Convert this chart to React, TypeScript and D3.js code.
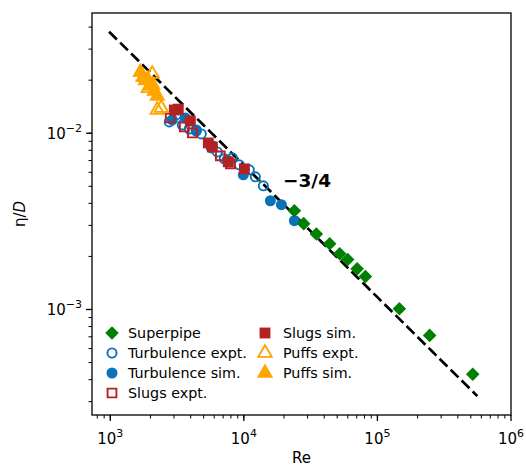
import React, { useEffect, useRef } from "react";
import * as d3 from "d3";

// Re and eta/D values
const superpipeRe = [23900, 28050, 34900, 43900, 52200, 59900, 70500, 81300, 146000, 246000, 517000];
const superpipeEta = [0.00363, 0.00307, 0.00268, 0.00236, 0.00207, 0.00192, 0.0017, 0.00154, 0.00101, 0.000713, 0.000429];

const turbExptRe = [2767, 3122, 3461, 3905, 4405, 4805, 5710, 6330, 7140, 8200, 9250, 10990, 12190, 14000];
const turbExptEta = [0.01159, 0.0127, 0.01114, 0.01057, 0.0103, 0.00991, 0.00826, 0.00783, 0.00716, 0.00725, 0.00662, 0.0062, 0.00566, 0.00503];

const turbSimRe = [2913, 3645, 4405, 5810, 7520, 9910, 15800, 19100, 23900];
const turbSimEta = [0.01189, 0.01222, 0.01044, 0.00848, 0.00706, 0.00581, 0.00414, 0.00393, 0.00319];

const slugsExptRe = [2814, 3583, 4115, 6670, 7925];
const slugsExptEta = [0.01221, 0.01086, 0.01004, 0.00744, 0.0067];

const slugsSimRe = [3016, 3230, 3975, 5420, 5810, 7650, 10090];
const slugsSimEta = [0.01355, 0.0137, 0.01174, 0.00881, 0.00836, 0.00689, 0.00628];

const puffsExptRe = [2063, 1926, 2249, 2410];
const puffsExptEta = [0.0217, 0.018, 0.01355, 0.0139];

const puffsSimRe = [1679, 1760, 1828, 1900, 1995, 2080, 2136, 2249];
const puffsSimEta = [0.0222, 0.0208, 0.0199, 0.0203, 0.01855, 0.0188, 0.01733, 0.01626];

// fit line eta/D = C * Re^(-3/4)
const fitC = 6.6;
const fitRange = [980, 560000];

const xTicks = [1e3, 1e4, 1e5, 1e6];
const yTicks = [1e-3, 1e-2];

const GREEN = "#008000";
const BLUE = "#0a72ba";
const RED = "#b22222";
const ORANGE = "#ffa500";

const App = () => {
  const ref = useRef<SVGSVGElement>(null);

  useEffect(() => {
    const width = 526;
    const height = 471;
    const m = { left: 92, right: 511, top: 13, bottom: 415 };

    const svg = d3.select(ref.current);
    svg.selectAll("*").remove();
    svg.attr("width", width).attr("height", height);

    const x = d3.scaleLog().domain([730, 1e6]).range([m.left, m.right]);
    const y = d3.scaleLog().domain([2.52e-4, 0.0481]).range([m.bottom, m.top]);

    const font = "DejaVu Sans, sans-serif";

    // minor ticks
    const minorX: number[] = [];
    for (let e = 2; e < 6; e++) for (let k = 1; k < 10; k++) {
      const v = k * Math.pow(10, e);
      if (v >= 730 && v <= 1e6) minorX.push(v);
    }
    const minorY: number[] = [];
    for (let e = -4; e < -1; e++) for (let k = 1; k < 10; k++) {
      const v = k * Math.pow(10, e);
      if (v >= 2.52e-4 && v <= 0.0481) minorY.push(v);
    }

    const g = svg.append("g");
    g.selectAll(".mx").data(minorX).enter().append("line")
      .attr("x1", (d) => x(d)).attr("x2", (d) => x(d))
      .attr("y1", m.bottom).attr("y2", m.bottom + 3.5)
      .attr("stroke", "#000").attr("stroke-width", 1);
    g.selectAll(".my").data(minorY).enter().append("line")
      .attr("y1", (d) => y(d)).attr("y2", (d) => y(d))
      .attr("x1", m.left).attr("x2", m.left - 3.5)
      .attr("stroke", "#000").attr("stroke-width", 1);
    g.selectAll(".Mx").data(xTicks).enter().append("line")
      .attr("x1", (d) => x(d)).attr("x2", (d) => x(d))
      .attr("y1", m.bottom).attr("y2", m.bottom + 6)
      .attr("stroke", "#000").attr("stroke-width", 1.3);
    g.selectAll(".My").data(yTicks).enter().append("line")
      .attr("y1", (d) => y(d)).attr("y2", (d) => y(d))
      .attr("x1", m.left).attr("x2", m.left - 6)
      .attr("stroke", "#000").attr("stroke-width", 1.3);

    // tick labels with superscript exponents
    xTicks.forEach((t) => {
      const txt = g.append("text")
        .attr("x", x(t)).attr("y", m.bottom + 29)
        .attr("text-anchor", "middle")
        .attr("font-family", font).attr("font-size", 15);
      txt.append("tspan").text("10");
      txt.append("tspan").attr("dy", -7).attr("font-size", 11)
        .text(String(Math.round(Math.log10(t))));
    });
    yTicks.forEach((t) => {
      const txt = g.append("text")
        .attr("x", m.left - 10).attr("y", y(t) + 6)
        .attr("text-anchor", "end")
        .attr("font-family", font).attr("font-size", 15);
      txt.append("tspan").text("10");
      txt.append("tspan").attr("dy", -7).attr("font-size", 11)
        .text("\u2212" + String(Math.abs(Math.round(Math.log10(t)))));
    });

    // axis labels
    svg.append("text").attr("x", (m.left + m.right) / 2).attr("y", 463)
      .attr("text-anchor", "middle").attr("font-family", font).attr("font-size", 15)
      .text("Re");
    const yl = svg.append("text")
      .attr("transform", `translate(25, ${(m.top + m.bottom) / 2}) rotate(-90)`)
      .attr("text-anchor", "middle").attr("font-family", font).attr("font-size", 15);
    yl.append("tspan").text("\u03b7/");
    yl.append("tspan").attr("font-style", "italic").text("D");

    // clip for data
    svg.append("clipPath").attr("id", "plotclip").append("rect")
      .attr("x", m.left).attr("y", m.top)
      .attr("width", m.right - m.left).attr("height", m.bottom - m.top);
    const plot = svg.append("g").attr("clip-path", "url(#plotclip)");

    // -3/4 dashed fit line
    const fitRe = d3.range(0, 41).map((i) =>
      Math.pow(10, Math.log10(fitRange[0]) + (i / 40) * (Math.log10(fitRange[1]) - Math.log10(fitRange[0]))));
    plot.append("path")
      .attr("d", d3.line<number>().x((d) => x(d)).y((d) => y(fitC * Math.pow(d, -0.75)))(fitRe))
      .attr("fill", "none").attr("stroke", "#000").attr("stroke-width", 2.7)
      .attr("stroke-dasharray", "11,4.5");

    const sym = {
      diamond: d3.symbol().type(d3.symbolSquare).size(92)(),
      circle: d3.symbol().type(d3.symbolCircle).size(95)(),
      circleOpen: d3.symbol().type(d3.symbolCircle).size(66)(),
      square: d3.symbol().type(d3.symbolSquare).size(118)(),
      squareOpen: d3.symbol().type(d3.symbolSquare).size(78)(),
      triangle: d3.symbol().type(d3.symbolTriangle).size(115)(),
      triangleOpen: d3.symbol().type(d3.symbolTriangle).size(78)(),
    };

    const series = [
      { re: turbExptRe, eta: turbExptEta, path: sym.circleOpen, color: BLUE, filled: false, rot: 0 },
      { re: turbSimRe, eta: turbSimEta, path: sym.circle, color: BLUE, filled: true, rot: 0 },
      { re: slugsExptRe, eta: slugsExptEta, path: sym.squareOpen, color: RED, filled: false, rot: 0 },
      { re: slugsSimRe, eta: slugsSimEta, path: sym.square, color: RED, filled: true, rot: 0 },
      { re: puffsSimRe, eta: puffsSimEta, path: sym.triangle, color: ORANGE, filled: true, rot: 0 },
      { re: puffsExptRe, eta: puffsExptEta, path: sym.triangleOpen, color: ORANGE, filled: false, rot: 0 },
      { re: superpipeRe, eta: superpipeEta, path: sym.diamond, color: GREEN, filled: true, rot: 45 },
    ];

    series.forEach((s) => {
      plot.append("g").selectAll("path").data(s.re).enter().append("path")
        .attr("d", s.path)
        .attr("transform", (d, i) => `translate(${x(d)},${y(s.eta[i])}) rotate(${s.rot})`)
        .attr("fill", s.filled ? s.color : "none")
        .attr("stroke", s.filled ? "none" : s.color)
        .attr("stroke-width", 1.9);
    });

    // frame
    svg.append("rect").attr("x", m.left).attr("y", m.top)
      .attr("width", m.right - m.left).attr("height", m.bottom - m.top)
      .attr("fill", "none").attr("stroke", "#000").attr("stroke-width", 1.3);

    // slope annotation
    svg.append("text").attr("x", 283).attr("y", 187)
      .attr("font-family", font).attr("font-size", 18.5).attr("font-weight", "bold")
      .text("\u22123/4");

    // legend
    const legendItems = [
      { label: "Superpipe", path: sym.diamond, color: GREEN, filled: true, rot: 45 },
      { label: "Turbulence expt.", path: sym.circleOpen, color: BLUE, filled: false, rot: 0 },
      { label: "Turbulence sim.", path: sym.circle, color: BLUE, filled: true, rot: 0 },
      { label: "Slugs expt.", path: sym.squareOpen, color: RED, filled: false, rot: 0 },
      { label: "Slugs sim.", path: sym.square, color: RED, filled: true, rot: 0 },
      { label: "Puffs expt.", path: sym.triangleOpen, color: ORANGE, filled: false, rot: 0 },
      { label: "Puffs sim.", path: sym.triangle, color: ORANGE, filled: true, rot: 0 },
    ];
    const leg = svg.append("g");
    legendItems.forEach((it, i) => {
      const col = i < 4 ? 0 : 1;
      const row = i < 4 ? i : i - 4;
      const hx = col === 0 ? 112 : 265;
      const tx = col === 0 ? 128 : 283;
      const ry = 333 + row * 20;
      leg.append("path").attr("d", it.path)
        .attr("transform", `translate(${hx},${ry}) rotate(${it.rot})`)
        .attr("fill", it.filled ? it.color : "none")
        .attr("stroke", it.filled ? "none" : it.color)
        .attr("stroke-width", 1.9);
      leg.append("text").attr("x", tx).attr("y", ry + 5)
        .attr("font-family", font).attr("font-size", 14.3).text(it.label);
    });
  }, []);

  return (
    <svg ref={ref} style={{ position: "absolute", left: 0, top: 0 }}></svg>
  );
};

export default App;
